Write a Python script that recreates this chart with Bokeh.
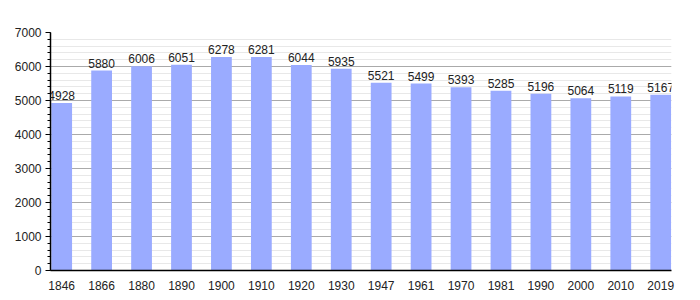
from bokeh.plotting import figure
from bokeh.models import ColumnDataSource, FixedTicker, Range1d, LabelSet
from bokeh.core.properties import value
from bokeh.embed import file_html
from bokeh.resources import INLINE

years = ["1846", "1866", "1880", "1890", "1900", "1910", "1920", "1930",
         "1947", "1961", "1970", "1981", "1990", "2000", "2010", "2019"]
population = [4928, 5880, 6006, 6051, 6278, 6281, 6044, 5935,
              5521, 5499, 5393, 5285, 5196, 5064, 5119, 5167]
y_ticks = [0, 1000, 2000, 3000, 4000, 5000, 6000, 7000]

xs = list(range(len(years)))
src = ColumnDataSource(dict(x=xs, y=population, lab=[str(v) for v in population]))

p = figure(width=700, height=300, output_backend="svg", toolbar_location=None,
           x_range=Range1d(-0.28, 15.27), y_range=Range1d(0, 7000),
           min_border_left=50, min_border_right=29, min_border_top=32, min_border_bottom=30)
p.outline_line_color = None
p.background_fill_color = "white"

p.vbar(x="x", top="y", width=0.52, source=src, color="#9aabff", line_color=None)

labels = LabelSet(x="x", y="y", text="lab", source=src, text_align="center",
                  text_baseline="bottom", y_offset=3, text_font_size=value("12px"),
                  text_font=value("Liberation Sans"), text_color="#222222")
p.add_layout(labels)

p.xgrid.grid_line_color = None
p.ygrid.ticker = FixedTicker(ticks=y_ticks, minor_ticks=list(range(0, 7001, 200)))
p.ygrid.grid_line_color = "#aaaaaa"
p.ygrid.minor_grid_line_color = "#e8e8e8"

p.yaxis.ticker = FixedTicker(ticks=y_ticks, minor_ticks=list(range(0, 7001, 200)))
p.yaxis.major_label_text_font = "Liberation Sans"
p.yaxis.major_label_text_font_size = "12px"
p.yaxis.major_label_text_color = "#222222"
p.yaxis.major_tick_in = 0
p.yaxis.major_tick_out = 5
p.yaxis.minor_tick_in = 0
p.yaxis.minor_tick_out = 3
p.yaxis.major_label_standoff = 4
p.yaxis.axis_line_color = "black"
p.yaxis.axis_line_width = 1.5

p.xaxis.ticker = FixedTicker(ticks=xs)
p.xaxis.major_label_overrides = {i: y for i, y in enumerate(years)}
p.xaxis.major_label_text_font = "Liberation Sans"
p.xaxis.major_label_text_font_size = "12px"
p.xaxis.major_label_text_color = "#222222"
p.xaxis.major_tick_line_color = None
p.xaxis.minor_tick_line_color = None
p.xaxis.major_label_standoff = 4
p.xaxis.axis_line_color = "black"
p.xaxis.axis_line_width = 1.5

open("out.html", "w").write(file_html(p, INLINE))
